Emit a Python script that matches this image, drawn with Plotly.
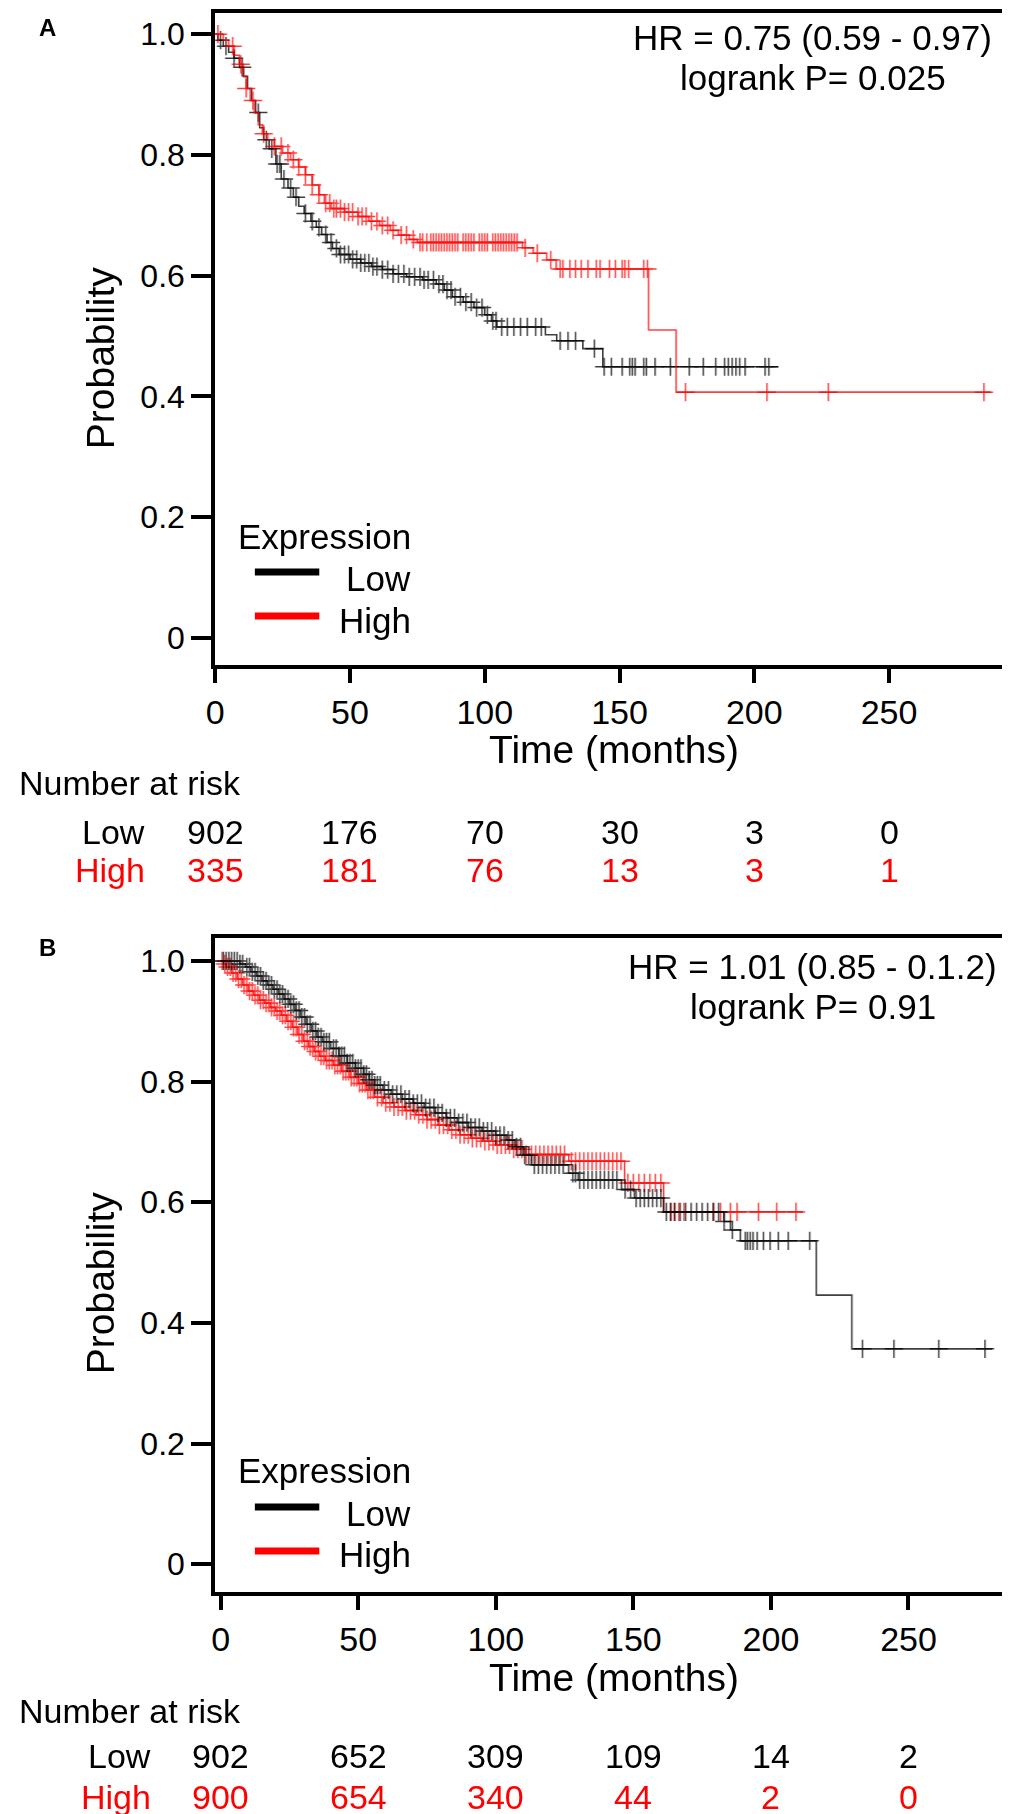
import numpy as np
import plotly.graph_objects as go

W, H = 1010, 1814
FONT = "Liberation Sans, Arial, sans-serif"
RED = "#ff0000"
BLACK = "#000000"

# ─────────────────────────────────────────────────────────────────────────────
# Data (step vertices: time in months, survival)
# ─────────────────────────────────────────────────────────────────────────────
# Panel A – Low expression
a_low_t = [0, 1, 3, 5, 7, 9, 10.5, 12, 13.5, 15, 16.5, 18, 20, 22.5, 24.5, 27, 29, 31,
           33, 35.5, 37.5, 39.5, 41.5, 43.5, 46, 50, 54, 58, 62, 66, 71, 77, 82, 85,
           88, 92, 96, 100, 102.5, 104.5, 122.5, 126.7, 136.4, 143.8, 209]
a_low_s = [1.0, 0.99, 0.98, 0.97, 0.96, 0.945, 0.93, 0.91, 0.89, 0.87, 0.845, 0.825, 0.81,
           0.785, 0.76, 0.745, 0.73, 0.715, 0.703, 0.69, 0.68, 0.668, 0.655, 0.645, 0.635,
           0.627, 0.621, 0.615, 0.61, 0.603, 0.598, 0.593, 0.586, 0.576, 0.565, 0.556,
           0.547, 0.535, 0.525, 0.515, 0.502, 0.492, 0.479, 0.449, 0.449]
a_low_cens = [2, 4, 7, 10, 16, 19, 21, 23, 24, 25.5, 28, 30, 33.5, 36, 38.5, 41, 43, 45,
              46.5, 48, 49.5, 51, 52.5, 54, 55.5, 57, 58.5, 60, 62, 64, 66, 68, 70, 72, 74,
              76, 77.5, 79, 81, 83, 84.5, 86, 87.5, 89, 91, 93, 95, 97, 99, 101, 103, 104.2,
              106.3, 108.4, 110.8, 113.3, 115.8, 118.9, 121, 128, 130.9, 133.7, 140.7, 144.3,
              147, 151, 153.8, 154.8, 155.8, 159, 160, 163.2, 168.9, 175.9, 181.1, 185.7,
              189, 190.4, 191.8, 193.2, 194.6, 196.6, 204, 205.4]

# Panel A – High expression
a_high_t = [0, 3, 5, 7, 9, 10.5, 11.5, 13, 14.5, 16, 17.5, 19.5, 22, 25, 28, 31, 33.5, 36,
            38.5, 40.5, 43, 48, 53, 57, 61, 65, 68, 72, 75, 114, 118, 123, 126.5, 160.8,
            171, 287.7]
a_high_s = [1.0, 0.99, 0.98, 0.965, 0.95, 0.93, 0.91, 0.89, 0.87, 0.85, 0.835, 0.825, 0.814,
            0.803, 0.792, 0.78, 0.767, 0.75, 0.734, 0.72, 0.711, 0.705, 0.698, 0.69, 0.683,
            0.675, 0.667, 0.66, 0.655, 0.646, 0.637, 0.626, 0.611, 0.51, 0.407, 0.407]
a_high_cens = [1, 6.5, 9.5, 11.5, 14, 18, 22, 24.5, 27, 29, 31, 33.5, 36, 38.5, 41, 42.5, 44,
               45, 46.5, 48, 49.5, 51, 53, 54.5, 56, 58, 60, 62, 64, 66, 69, 71, 73.5, 76, 77,
               78.5, 80, 81, 82, 83, 84, 85, 86, 87, 88, 89, 90, 92, 93, 94, 95, 96, 98, 99,
               100, 101, 103, 104, 105, 106, 107, 108, 109, 110, 111, 112, 115, 119.5, 124.5,
               128, 129, 131.6, 133.7, 135.8, 138.3, 141.4, 142.8, 146.3, 148.5, 151, 152,
               153.4, 159, 160.4, 174.5, 204.7, 227.5, 285.2]

# Panel B – Low expression
b_low_t = [0, 7, 9, 11, 13, 15, 17, 19, 21, 23, 25, 27, 29, 31, 33, 35, 37, 40, 43, 46, 49,
           52, 54, 56, 59, 62, 66, 70, 74, 78, 82, 86, 90, 95, 100, 104, 107, 110, 113,
           126.5, 130, 145.7, 150.4, 161, 182.9, 185.3, 188.9, 216.5, 229.4, 280.4]
b_low_s = [1.0, 0.995, 0.99, 0.982, 0.975, 0.967, 0.96, 0.953, 0.945, 0.937, 0.928, 0.918,
           0.907, 0.895, 0.884, 0.874, 0.866, 0.855, 0.843, 0.831, 0.822, 0.812, 0.803, 0.794,
           0.786, 0.779, 0.771, 0.764, 0.757, 0.748, 0.74, 0.732, 0.724, 0.718, 0.711, 0.703,
           0.692, 0.678, 0.662, 0.648, 0.637, 0.621, 0.607, 0.584, 0.568, 0.554, 0.536,
           0.446, 0.357, 0.357]
b_low_cens = [1, 2, 3, 4, 5, 6, 7, 8, 9.5, 10.5, 11.5, 12.5, 13.5, 14.5, 15.5, 16.5, 17.5,
              18.5, 19.5, 20.5, 21.5, 22.5, 23.5, 24.5, 25.5, 26.5, 27.5, 28.5, 29.5, 30.5,
              31.5, 32.5, 33.5, 34.5, 35.5, 36.5, 37.5, 38.5, 39.5, 41, 42, 43, 44, 45, 46,
              47, 48, 49, 50, 51, 52, 53, 54, 55, 56, 57, 58, 59.5, 61, 62.5, 64, 65.5, 67,
              68.5, 70, 71.5, 73, 74.5, 76, 77.5, 79, 80.5, 82, 83.5, 85, 86.5, 88, 89.5, 91,
              92.5, 94, 95.5, 97, 98.5, 100, 101.5, 103, 104.5, 106, 107.5, 109, 110.5, 112,
              114, 115.5, 117, 118.5, 120, 121.5, 123, 124.5, 128, 129, 130.5, 132, 133.5,
              135, 136.5, 138, 139.5, 141, 142.5, 144, 147, 149, 151, 152.5, 154, 155.5, 157,
              158.5, 160, 162, 163.5, 165, 167, 169, 171, 173, 175, 177, 179, 181, 183, 186,
              190.7, 191.5, 192.5, 193.5, 195, 197.3, 199.7, 202.7, 206.3, 214.1, 233.3,
              244.7, 261, 277.8]

# Panel B – High expression
b_high_t = [0, 1, 2, 4, 6, 8, 10, 12, 14, 16, 18, 20, 22, 24, 26, 28, 30, 32, 34, 36, 38, 41,
            44, 47, 50, 53, 56, 59, 63, 67, 71, 75, 79, 83, 87, 91, 95, 100, 106, 111, 126.5,
            146.8, 161, 211.6]
b_high_s = [1.0, 0.995, 0.99, 0.98, 0.97, 0.96, 0.95, 0.943, 0.935, 0.93, 0.923, 0.917, 0.91,
            0.9, 0.89, 0.878, 0.867, 0.858, 0.85, 0.842, 0.835, 0.827, 0.817, 0.807, 0.797,
            0.786, 0.774, 0.765, 0.758, 0.752, 0.745, 0.737, 0.728, 0.72, 0.712, 0.706,
            0.701, 0.695, 0.688, 0.679, 0.668, 0.632, 0.584, 0.584]
b_high_cens = [0.5, 1.5, 2.5, 3.5, 4.5, 5.5, 6.5, 7.5, 8.5, 9.5, 10.5, 11.5, 12.5, 13.5, 14.5,
               15.5, 16.5, 17.5, 18.5, 19.5, 20.5, 21.5, 22.5, 23.5, 24.5, 25.5, 26.5, 27.5,
               28.5, 29.5, 30.5, 31.5, 32.5, 33.5, 34.5, 35.5, 36.5, 37.5, 38.5, 39.5, 40.5,
               41.5, 42.5, 43.5, 44.5, 45.5, 46.5, 47.5, 48.5, 49.5, 50.5, 51.5, 52.5, 53.5,
               54.5, 55.5, 57, 58.5, 60, 61.5, 63, 64.5, 66, 67.5, 69, 70.5, 72, 73.5, 75,
               76.5, 78, 79.5, 81, 82.5, 84, 85.5, 87, 88.5, 90, 91.5, 93, 94.5, 96, 97.5, 99,
               100.5, 102, 103.5, 105, 106.5, 108, 109.5, 111, 113, 114.5, 116, 117.5, 119,
               120.5, 122, 123.5, 125, 127.5, 129, 130.5, 132, 133.5, 135, 136.5, 138, 139.5,
               141, 142.5, 144, 145.5, 148, 150, 152, 154, 156, 158, 160, 163.7, 165, 166.5,
               168.4, 179.2, 181.7, 185.3, 187.7, 195.5, 202.1, 209.1]

# Numbers at risk
risk_times = [0, 50, 100, 150, 200, 250]
a_risk_low = [902, 176, 70, 30, 3, 0]
a_risk_high = [335, 181, 76, 13, 3, 1]
b_risk_low = [902, 652, 309, 109, 14, 2]
b_risk_high = [900, 654, 340, 44, 2, 0]

x_ticks = [0, 50, 100, 150, 200, 250]
y_ticks = [0, 0.2, 0.4, 0.6, 0.8, 1.0]
y_tick_labels = ["0", "0.2", "0.4", "0.6", "0.8", "1.0"]

a_stats = ["HR = 0.75 (0.59 - 0.97)", "logrank P= 0.025"]
b_stats = ["HR = 1.01 (0.85 - 0.1.2)", "logrank P= 0.91"]


# ─────────────────────────────────────────────────────────────────────────────
# helpers
# ─────────────────────────────────────────────────────────────────────────────
def fx(p):
    """pixel column -> paper x"""
    return p / W


def fy(p):
    """pixel row -> paper y"""
    return 1 - p / H


def surv_at(t_steps, s_steps, times):
    idx = np.searchsorted(np.asarray(t_steps), np.asarray(times), side="right") - 1
    return np.asarray(s_steps)[idx]


def add_group(fig, t, s, cens, color, xa, ya):
    fig.add_trace(go.Scatter(
        x=t, y=s, mode="lines", line=dict(color=color, width=1.6, shape="hv"),
        opacity=0.75, showlegend=False, xaxis=xa, yaxis=ya, hoverinfo="skip",
    ))
    fig.add_trace(go.Scatter(
        x=cens, y=surv_at(t, s, cens), mode="markers",
        marker=dict(symbol="cross-thin", size=13, line=dict(color=color, width=1.5)),
        opacity=0.75, showlegend=False, xaxis=xa, yaxis=ya, hoverinfo="skip",
    ))


def text(x, y, s, size=34, color=BLACK, xanchor="center", xref="paper", **kw):
    return dict(x=x, y=y, xref=xref, yref="paper", text=s, showarrow=False,
                xanchor=xanchor, yanchor="middle",
                font=dict(family=FONT, size=size, color=color), **kw)


fig = go.Figure()
add_group(fig, a_low_t, a_low_s, a_low_cens, BLACK, "x", "y")
add_group(fig, a_high_t, a_high_s, a_high_cens, RED, "x", "y")
add_group(fig, b_high_t, b_high_s, b_high_cens, RED, "x2", "y2")
add_group(fig, b_low_t, b_low_s, b_low_cens, BLACK, "x2", "y2")

axis_common = dict(showline=True, linewidth=4, linecolor=BLACK, mirror=True,
                   showgrid=False, zeroline=False, ticks="outside", tickwidth=4,
                   tickcolor=BLACK)
xcommon = dict(axis_common, tickvals=x_ticks, ticklen=14,
               tickfont=dict(family=FONT, size=34, color=BLACK))
ycommon = dict(axis_common, tickvals=y_ticks, ticktext=y_tick_labels, ticklen=20,
               tickfont=dict(family=FONT, size=32, color=BLACK))

# panel geometry in pixels: plot box x 200-1005, A rows 5-657, B rows 930-1584
fig.update_layout(
    width=W, height=H, margin=dict(l=0, r=0, t=0, b=0),
    paper_bgcolor="white", plot_bgcolor="white",
    xaxis=dict(xcommon, domain=[fx(200), fx(1005)], range=[0, 296], anchor="y"),
    yaxis=dict(ycommon, domain=[fy(657), fy(5)], range=[-0.045, 1.035], anchor="x"),
    xaxis2=dict(xcommon, domain=[fx(200), fx(1005)], range=[-2, 288], anchor="y2"),
    yaxis2=dict(ycommon, domain=[fy(1584), fy(930)], range=[-0.046, 1.038], anchor="x2"),
)

ann = []
shapes = []
panels = [
    ("A", "x", 0, 20, a_stats, a_risk_low, a_risk_high, (30, 70), 529, (564, 608),
     (570, 612), 775, (824, 862), 131),
    ("B", "x2", 925, 940, b_stats, b_risk_low, b_risk_high, (958, 998), 1462, (1499, 1543),
     (1505, 1546), 1703, (1748, 1789), 137),
]
for (lab, xref, off, lab_y, stats, r_low, r_high, stat_y, leg_title_y, leg_line_y,
     leg_txt_y, nar_y, row_y, row_x) in panels:
    ann.append(text(fx(31), fy(lab_y), f"<b>{lab}</b>", size=24))
    ann.append(text(fx(803), fy(stat_y[0]), stats[0], size=35))
    ann.append(text(fx(803), fy(stat_y[1]), stats[1], size=35))
    ann.append(text(fx(84), fy(350 + off), "Probability", size=39, textangle=-90))
    ann.append(text(fx(602), fy(741 + off + (3 if off else 0)), "Time (months)", size=39))
    # legend
    ann.append(text(fx(221), fy(leg_title_y), "Expression", size=35, xanchor="left"))
    ann.append(text(fx(400), fy(leg_txt_y[0]), "Low", size=35, xanchor="right"))
    ann.append(text(fx(400), fy(leg_txt_y[1]), "High", size=35, xanchor="right"))
    for yy, col in zip(leg_line_y, [BLACK, RED]):
        shapes.append(dict(type="line", xref="paper", yref="paper",
                           x0=fx(240), x1=fx(305), y0=fy(yy), y1=fy(yy),
                           line=dict(color=col, width=7)))
    # number at risk table
    ann.append(text(0, fy(nar_y), "Number at risk", size=34, xanchor="left"))
    ann.append(text(fx(row_x), fy(row_y[0]), "Low", size=34, xanchor="right"))
    ann.append(text(fx(row_x), fy(row_y[1]), "High", size=34, color=RED, xanchor="right"))
    for t, n in zip(risk_times, r_low):
        ann.append(text(t, fy(row_y[0]), str(n), size=34, xref=xref))
    for t, n in zip(risk_times, r_high):
        ann.append(text(t, fy(row_y[1]), str(n), size=34, color=RED, xref=xref))

fig.update_layout(annotations=ann, shapes=shapes)

fig.write_html("out.html")
